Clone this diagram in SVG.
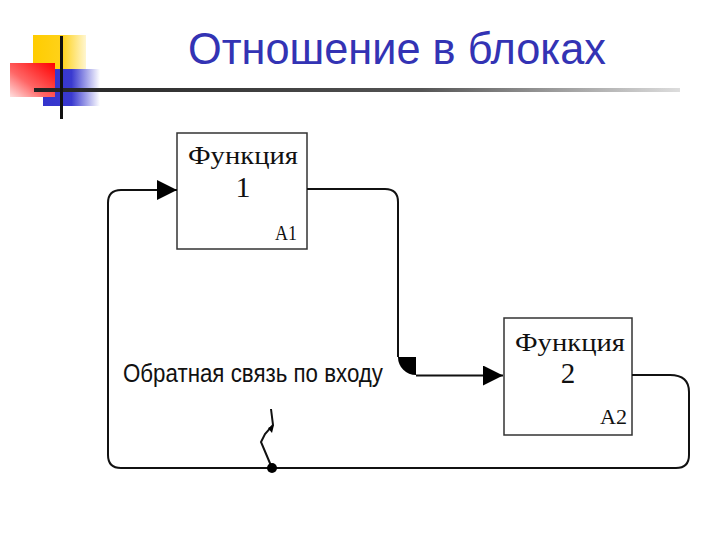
<svg xmlns="http://www.w3.org/2000/svg" width="720" height="540" viewBox="0 0 720 540">
<defs>
<linearGradient id="gY" x1="0" y1="0" x2="1" y2="0"><stop offset="0" stop-color="#ffcc00"/><stop offset="0.55" stop-color="#ffd21a"/><stop offset="1" stop-color="#fff6d0"/></linearGradient>
<linearGradient id="gB" x1="0" y1="0" x2="1" y2="0"><stop offset="0" stop-color="#3333cc"/><stop offset="0.5" stop-color="#3a3ad0"/><stop offset="1" stop-color="#ffffff"/></linearGradient>
<linearGradient id="gR" x1="1" y1="0" x2="0" y2="1"><stop offset="0" stop-color="#ff0000"/><stop offset="0.6" stop-color="#ff6666"/><stop offset="1" stop-color="#ffe0e0"/></linearGradient>
<linearGradient id="gL" x1="0" y1="0" x2="1" y2="0"><stop offset="0" stop-color="#222222"/><stop offset="0.6" stop-color="#555555"/><stop offset="1" stop-color="#dddddd"/></linearGradient>
<marker id="arr" viewBox="0 0 20 20" refX="20" refY="10" markerWidth="20" markerHeight="20" markerUnits="userSpaceOnUse" orient="auto"><path d="M0,0 L20,10 L0,20 Z" fill="#000"/></marker>
</defs>
<style>
.box{fill:#fff;stroke:#333;stroke-width:1.5}
.fn{font-family:"Liberation Serif","Times New Roman",serif;fill:#111}
.ln{fill:none;stroke:#111;stroke-width:2}
.lbl{font-family:"Liberation Sans",Arial,sans-serif;font-size:25px;fill:#111}
</style>
<g id="logo">
<rect x="33" y="35" width="53" height="45" fill="url(#gY)"/>
<rect x="43" y="69" width="57" height="37" fill="url(#gB)"/>
<rect x="10" y="63" width="45" height="34" fill="url(#gR)"/>
<rect x="34" y="88" width="646" height="4" fill="url(#gL)"/>
<rect x="60" y="36" width="3" height="83" fill="#111"/>
</g>
<text id="title" x="188" y="64" font-family="Tahoma,'Liberation Sans',sans-serif" font-size="44" fill="#3333b4" textLength="418" lengthAdjust="spacingAndGlyphs">Отношение в блоках</text>
<g id="block1">
<rect class="box" x="177" y="133" width="130" height="116"/>
<text class="fn" x="243" y="164" font-size="26" text-anchor="middle" textLength="110" lengthAdjust="spacingAndGlyphs">Функция</text>
<text class="fn" x="243" y="197" font-size="30" text-anchor="middle">1</text>
<text class="fn" x="297" y="240" font-size="20" text-anchor="end" textLength="22" lengthAdjust="spacingAndGlyphs">A1</text>
</g>
<g id="block2">
<rect class="box" x="504" y="318" width="128" height="117"/>
<text class="fn" x="570" y="351" font-size="26" text-anchor="middle" textLength="110" lengthAdjust="spacingAndGlyphs">Функция</text>
<text class="fn" x="568" y="383" font-size="29" text-anchor="middle">2</text>
<text class="fn" x="627" y="424" font-size="20" text-anchor="end" textLength="27" lengthAdjust="spacingAndGlyphs">A2</text>
</g>
<g id="connectors">
<path class="ln" d="M307,189 H385 Q398,189 398,202 V357" />
<path d="M416,357 L398,357 A18,18 0 0 0 416,375 Z" fill="#000"/>
<path class="ln" d="M416,375.5 H503" marker-end="url(#arr)"/>
<path class="ln" d="M632,375 H670 Q689,375 689,392 V455 Q689,468 676,468 H121 Q108,468 108,455 V203 Q108,190 121,190 H177" marker-end="url(#arr)"/>
<path class="ln" d="M271,409 L273,425 L265,434 L261,442 L272,468"/>
<path d="M268,428 L274,425 L272,433 Z" fill="#000"/>
<circle cx="272" cy="468" r="5" fill="#000"/>
</g>
<text id="label" class="lbl" x="123" y="382" textLength="260" lengthAdjust="spacingAndGlyphs">Обратная связь по входу</text>
</svg>
